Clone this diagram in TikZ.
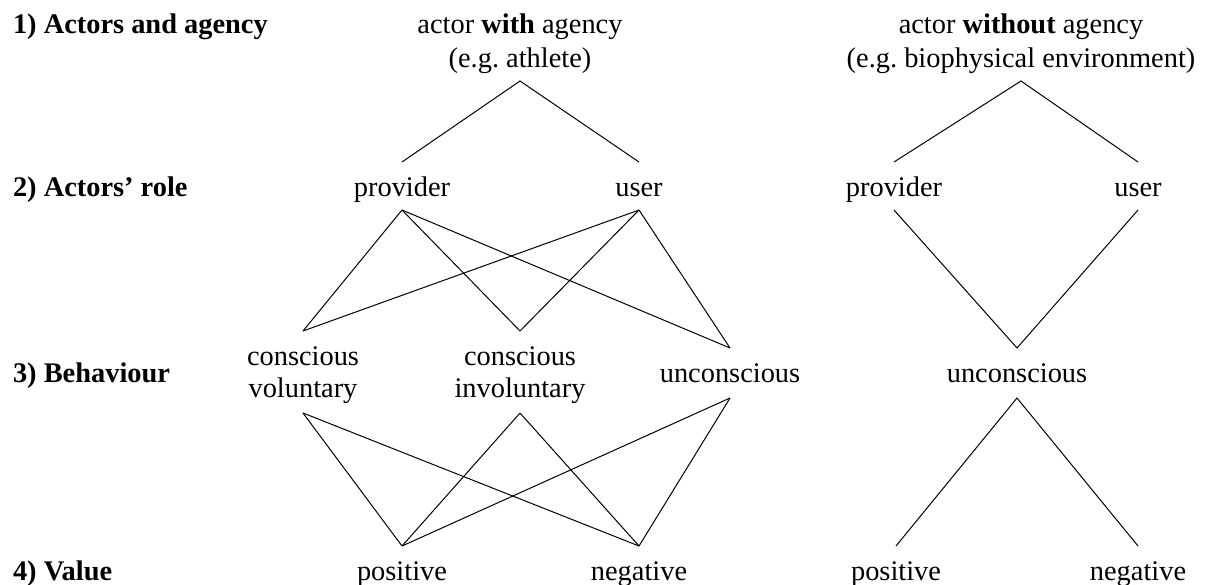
\documentclass[tikz,border=0pt]{standalone}
\usepackage{fontspec}
\setmainfont{Liberation Serif}
% two centred lines in a box whose baseline is that of the first line
\newcommand{\twoln}[3]{\vtop{\baselineskip=#1\relax\lineskiplimit=0pt\halign{\hfil##\hfil\cr #2\cr #3\cr}}}
\begin{document}
\begin{tikzpicture}[x=0.5pt,y=-0.5pt,
  every node/.style={font=\fontsize{14.2}{17}\selectfont, inner sep=0pt, outer sep=0pt},
  single/.style={anchor=base, text height=17pt, text depth=7pt},
  double/.style={anchor=base, text height=17pt, text depth=24pt},
  head/.style={anchor=base west, font=\fontsize{14.2}{17}\selectfont\bfseries},
  link/.style={line width=0.5pt, black}]
\useasboundingbox (0,0) rectangle (1208,584);

% level headings
\node[head] (h1) at (13,33)  {1) Actors and agency};
\node[head] (h2) at (13,196) {2) Actors’ role};
\node[head] (h3) at (13,382) {3) Behaviour};
\node[head] (h4) at (13,580) {4) Value};

% actor with agency
\node[double] (a1) at (520,33) {\twoln{17.25pt}{actor \textbf{with} agency}{(e.g.\ athlete)}};
\node[single] (p1) at (402,196) {provider};
\node[single] (u1) at (639,196) {user};
\node[double] (cv) at (303,365) {\twoln{16pt}{conscious}{voluntary}};
\node[double] (ci) at (520,365) {\twoln{16pt}{conscious}{involuntary}};
\node[single, text depth=8pt] (un1) at (730,382) {unconscious};
\node[single] (po1) at (402,580) {positive};
\node[single] (ne1) at (639,580) {negative};

% actor without agency
\node[double] (a2) at (1021,33) {\twoln{17.25pt}{actor \textbf{without} agency}{(e.g.\ biophysical environment)}};
\node[single] (p2) at (894,196) {provider};
\node[single] (u2) at (1138,196) {user};
\node[single, text depth=8pt] (un2) at (1017,382) {unconscious};
\node[single] (po2) at (896,580) {positive};
\node[single] (ne2) at (1138,580) {negative};

% connectors, left tree
\draw[link] (p1.north) -- (a1.south) -- (u1.north);
\foreach \r in {p1,u1}
  \foreach \b in {cv,ci,un1}
    \draw[link] (\r.south) -- (\b.north);
\foreach \b in {cv,ci,un1}
  \foreach \v in {po1,ne1}
    \draw[link] (\b.south) -- (\v.north);

% connectors, right tree
\draw[link] (p2.north) -- (a2.south) -- (u2.north);
\draw[link] (p2.south) -- (un2.north) -- (u2.south);
\draw[link] (po2.north) -- (un2.south) -- (ne2.north);
\end{tikzpicture}
\end{document}
